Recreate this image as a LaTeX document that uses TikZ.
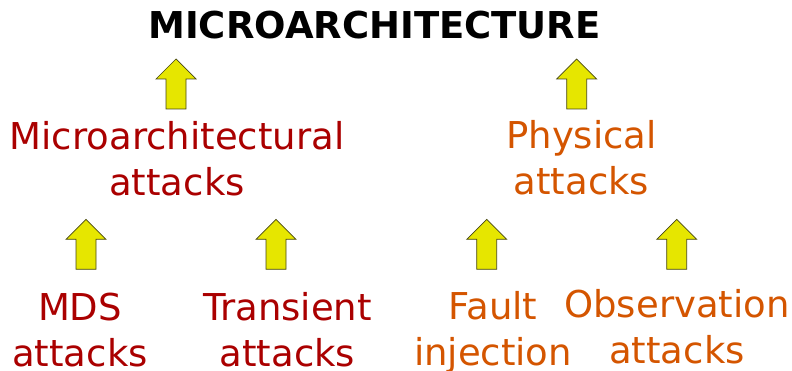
\documentclass[tikz,border=0pt]{standalone}
\usepackage{fontspec}
\setmainfont{DejaVu Sans}
\definecolor{microred}{RGB}{170,0,0}
\definecolor{physorange}{RGB}{212,85,0}
\definecolor{arrowfill}{RGB}{230,230,0}
\definecolor{arrowline}{RGB}{70,70,20}
\begin{document}
\begin{tikzpicture}[x=1pt,y=-1pt]
\tikzset{
  lbl/.style={font=\fontsize{37}{46}\selectfont, align=center, anchor=base, inner sep=0pt},
  micro/.style={lbl, text=microred},
  phys/.style={lbl, text=physorange},
  title/.style={font=\fontsize{37}{46}\selectfont\bfseries, anchor=base, inner sep=0pt},
  arrowstyle/.style={fill=arrowfill, draw=arrowline, line width=0.7pt, line join=miter},
  uparrow/.pic={\path[arrowstyle] (0,0) -- (20,20) -- (10,20) -- (10,50) -- (-10,50) -- (-10,20) -- (-20,20) -- cycle;}
}
\useasboundingbox (0,0) rectangle (792,371);
\node[title] (top) at (374.5,39) {MICROARCHITECTURE};
\node[micro] (mattacks) at (177,195.3) {Microarchitectural\\attacks};
\node[phys] (pattacks) at (581.5,195) {Physical\\attacks};
\node[micro] (mds) at (80,366.5) {MDS\\attacks};
\node[micro] (trans) at (287.5,366.5) {Transient\\attacks};
\node[phys] (fault) at (493,365.5) {Fault\\injection};
\node[phys] (obs) at (677,363) {Observation\\attacks};
\pic (a1) at (176,59) {uparrow};
\pic (a2) at (576.7,59) {uparrow};
\pic (a3) at (86,219.3) {uparrow};
\pic (a4) at (276,219.3) {uparrow};
\pic (a5) at (486.7,219.3) {uparrow};
\pic (a6) at (676.7,219.3) {uparrow};
\end{tikzpicture}
\end{document}
